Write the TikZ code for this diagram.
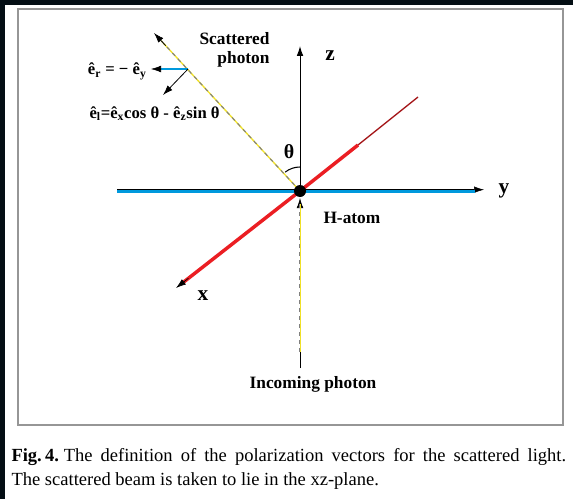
\documentclass[tikz,border=0pt]{standalone}
\usepackage{fontspec}
\setmainfont{Liberation Serif}
\usetikzlibrary{arrows.meta,calc}

\definecolor{pageDark}{RGB}{4,14,20}
\definecolor{frameGray}{RGB}{150,150,150}
\definecolor{axisBlue}{RGB}{0,153,221}
\definecolor{axisRed}{RGB}{235,30,35}
\definecolor{photonYellow}{RGB}{240,225,40}

\tikzset{every picture/.style={line width=0.75pt}}
\tikzset{
  tipBlack/.style={-{Latex[length=7.5pt,width=5pt]}},
  photonBeam/.style={draw=photonYellow,line width=1pt},
  photonDash/.style={draw=gray,dashed,dash pattern=on 3pt off 3pt,line width=0.8pt},
  axisLabel/.style={inner sep=0.75pt,font=\fontsize{16}{18}\selectfont\bfseries},
  textLabel/.style={inner sep=0.75pt,font=\fontsize{13}{15}\selectfont\bfseries},
  vecLabel/.style={inner sep=0.75pt,font=\fontsize{12.5}{14}\selectfont\bfseries},
  capText/.style={anchor=base west,inner sep=0pt,font=\fontsize{13.9}{16}\selectfont},
}

\begin{document}
\begin{tikzpicture}[x=0.75pt,y=0.75pt,yscale=-1,xscale=1]
%set diagram size 573 x 499
\fill[pageDark] (0,0) rectangle (573,499);
\useasboundingbox (0,0) rectangle (573,499);
\fill[white] (5,5) rectangle (573,499);
\draw[draw=frameGray,line width=1.5pt] (18,9) rectangle (563,425);

% Points
\coordinate (O) at (300,191);
\coordinate (zTip) at (300,46);
\coordinate (yStart) at (117,191);
\coordinate (yTip) at (484,191);
\coordinate (xTip) at (176,288);
\coordinate (xMid) at (358,145);
\coordinate (xEnd) at (418,97);
\coordinate (scTip) at (154,33);
\coordinate (inStart) at (300,368);
\coordinate (inDash) at (300,352);
\coordinate (inTip) at (300,198);
\coordinate (erBase) at (188,69);
\coordinate (erTip) at (151,69);
\coordinate (eoneTip) at (163,95);

%Straight Lines y axis
\draw[tipBlack,line width=0.4pt] ($(yStart)+(0,-1.3)$) -- ($(yTip)+(0,-1.3)$);
\draw[axisBlue,line width=2.7pt] ($(yStart)+(0,0.6)$) -- ($(yTip)+(-9,0.6)$);

%Straight Lines z axis
\draw[tipBlack] (O) -- (zTip);

%Straight Lines x axis
\draw[axisRed,line width=2.6pt] (O) -- ($(xTip)!0.06!(O)$);
\draw[tipBlack,line width=0.5pt] ($(xTip)!0.1!(O)$) -- (xTip);
\draw[axisRed,line width=2.6pt] (O) -- (xMid);
\draw[axisRed!70!black,line width=1pt] (xMid) -- (xEnd);

%Scattered photon
\draw[photonBeam] (O) -- ($(scTip)!0.05!(O)$);
\draw[photonDash] (O) -- ($(scTip)!0.05!(O)$);
\draw[tipBlack,line width=0.5pt] ($(scTip)!0.08!(O)$) -- (scTip);

%Incoming photon
\draw[tipBlack,line width=0.5pt] (inStart) -- (inTip);
\draw[photonBeam] ($(inDash)+(0.8,0)$) -- ($(inTip)+(0.8,6)$);
\draw[photonDash] ($(inDash)+(-0.6,0)$) -- ($(inTip)+(-0.6,6)$);

%Polarization vectors
\draw[axisBlue,line width=2pt] (erBase) -- ($(erTip)+(6,0)$);
\draw[tipBlack,line width=0.4pt] ($(erTip)+(8,0)$) -- (erTip);
\draw[tipBlack,line width=0.6pt] (erBase) -- (eoneTip);

%Angle
\draw[line width=0.8pt] ($(O)+(0,-24)$) arc[start angle=-90,end angle=-128,radius=24];

%H atom
\fill (O) circle[radius=6];

% Text Node
\node[axisLabel] (zLabel) at (330,56) {z};
% Text Node
\node[axisLabel,anchor=base] (yLabel) at (504,193) {y};
% Text Node
\node[axisLabel,anchor=base] (xLabel) at (203,300) {x};
% Text Node
\node[axisLabel,font=\fontsize{15}{18}\selectfont\bfseries] (thetaLabel) at (289,152) {θ};
% Text Node
\node[textLabel,anchor=base east] (scatLabel) at (271,45) {Scattered};
\node[textLabel,anchor=base east] (photLabel) at (271,64) {photon};
% Text Node
\node[textLabel,anchor=base west] (atomLabel) at (322,223) {H-atom};
% Text Node
\node[textLabel,anchor=base] (inLabel) at (313,388) {Incoming photon};
% Text Node
\node[vecLabel,anchor=base east] (erLabel) at (148,75) {ê\textsubscript{r} = − ê\textsubscript{y}};
% Text Node
\node[vecLabel,anchor=base west] (eoneLabel) at (88,118) {ê\textsubscript{l}=ê\textsubscript{x}cos θ - ê\textsubscript{z}sin θ};

% Caption
\node[capText] (capOne) at (11,461) {\makebox[416pt][s]{\textbf{Fig.\hspace{2.5pt}4.}\hspace{3.5pt}The definition of the polarization vectors for the scattered light.}};
\node[capText] (capTwo) at (11,485) {The scattered beam is taken to lie in the xz-plane.};
\end{tikzpicture}
\end{document}
